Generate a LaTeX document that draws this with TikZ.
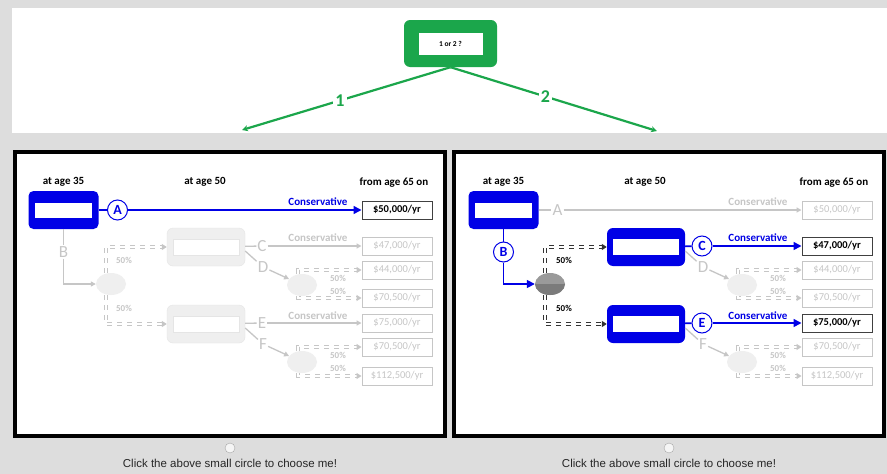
\documentclass[tikz,border=0pt]{standalone}
\usepackage{fontspec}
\setmainfont{Carlito}
\newfontfamily\clickfont{Liberation Sans}
\usetikzlibrary{arrows.meta,shapes.geometric,positioning}

\definecolor{bggray}{HTML}{DDDDDD}
\definecolor{optgreen}{HTML}{1BA64B}
\definecolor{pathblue}{HTML}{0000E6}
\definecolor{fade}{HTML}{C6C6C6}
\definecolor{fadefill}{HTML}{EFEFEF}
\definecolor{chancegray}{HTML}{9A9A9A}

\tikzset{
  agelbl/.style={font=\fontsize{11}{13}\selectfont\bfseries},
  paybox/.style={draw=black!75, line width=1pt, minimum width=70pt, minimum height=18pt, inner sep=0pt, font=\fontsize{10.5}{12}\selectfont\bfseries},
  fadepay/.style={paybox, draw=fade, text=fade, font=\fontsize{10.5}{12}\selectfont},
  nowbox/.style={rounded corners=5pt, fill=pathblue, minimum width=70pt, minimum height=38pt, inner sep=0pt},
  laterbox/.style={rounded corners=6pt, fill=pathblue, minimum width=78pt, minimum height=38pt, inner sep=0pt},
  fadebox/.style={laterbox, fill=fadefill, draw=fade!45},
  slot/.style={fill=white, minimum width=57pt, minimum height=15pt, inner sep=0pt},
  bigslot/.style={fill=white, minimum width=66pt, minimum height=16pt, inner sep=0pt},
  fadeslot/.style={bigslot, draw=fade!45},
  pick/.style={circle, draw=pathblue, fill=white, line width=1pt, minimum size=20pt, inner sep=0pt, text=pathblue, font=\fontsize{14}{16}\selectfont\bfseries},
  skip/.style={text=fade, inner sep=1pt, font=\fontsize{17}{19}\selectfont},
  chance/.style={ellipse, minimum width=30pt, minimum height=22pt, fill=fadefill, inner sep=0pt},
  pathline/.style={draw=pathblue, line width=1.6pt},
  patharrow/.style={pathline, -{Triangle[length=8pt,width=8pt]}},
  fadeline/.style={draw=fade, line width=1.3pt},
  fadearrow/.style={fadeline, -{Triangle[length=5pt,width=5pt]}},
  split/.style={draw=black!80, double=white, double distance=1.4pt, line width=1.7pt, dash pattern=on 5pt off 5pt, -{Triangle[length=5pt,width=6pt]}},
  fadesplit/.style={split, draw=fade},
  pct/.style={font=\fontsize{9}{10}\selectfont\bfseries},
  cons/.style={font=\fontsize{11}{13}\selectfont\bfseries},
  optline/.style={draw=optgreen, line width=2.2pt, -{Stealth[length=6pt,width=6pt]}},
  optnum/.style={fill=white, text=optgreen, inner sep=2pt, font=\fontsize{18}{20}\selectfont\bfseries},
  frame/.style={draw=black, line width=4pt, fill=white},
  radio/.style={circle, draw=black!35, fill=black!4, minimum size=10pt, inner sep=0pt},
  clicktxt/.style={font=\clickfont\fontsize{11.5}{13}\selectfont, text=black!85},
}

\begin{document}
\begin{tikzpicture}[x=1pt,y=-1pt]
\useasboundingbox (0,0) rectangle (887,474);
\fill[bggray] (0,0) rectangle (887,474);
\fill[white] (12,8) rectangle (887,133);

% the question
\node[fill=optgreen, rounded corners=6pt, minimum width=93pt, minimum height=47pt] (choice) at (450.5,43.5) {};
\node[fill=white, minimum width=64pt, minimum height=22pt, inner sep=0pt, font=\fontsize{7.5}{8}\selectfont\bfseries] (choicetxt) at (choice) {1 or 2 ?};
\coordinate (opt1) at (242,130);
\coordinate (opt2) at (657,131);
\draw[optline] (choice.south) -- node[optnum, pos=0.53] (num1) {1} (opt1);
\draw[optline] (choice.south) -- node[optnum, pos=0.46] (num2) {2} (opt2);

% the two panels
\draw[frame] (15,152) rectangle (445,436);
\draw[frame] (454,152) rectangle (884,436);

\node[radio] (radio1) at (230,448) {};
\node[clicktxt] (click1) at (230,463) {Click the above small circle to choose me!};
\node[radio] (radio2) at (669,448) {};
\node[clicktxt] (click2) at (669,463) {Click the above small circle to choose me!};

% option 1
\begin{scope}
\node[agelbl] (lage35) at (63.5,182) {at age 35};
\node[agelbl] (lage50) at (205,182) {at age 50};
\node[agelbl] (lage65) at (394,183) {from age 65 on};

\node[nowbox] (lnow) at (63.5,210) {};
\node[slot] (lnowslot) at (lnow) {};
\node[pick] (lA) at (117.5,210) {A};
\node[paybox] (lpay1) at (397,210) {\$50,000/yr};
\draw[pathline] (lnow) -- (lA);
\draw[patharrow] (lA) -- (lpay1);
\node[cons, text=pathblue] (lcons1) at (318,202) {Conservative};

\node[skip] (lB) at (63.5,252) {B};
\node[chance] (lchance) at (111,284) {};
\draw[fadeline] (lnow) -- (lB);
\draw[fadearrow] (lB) |- (lchance);

\node[fadebox] (lmid1) at (206,247) {};
\node[fadeslot] (lmid1slot) at (lmid1) {};
\node[fadebox] (lmid2) at (206,324) {};
\node[fadeslot] (lmid2slot) at (lmid2) {};
\draw[fadesplit] ([xshift=-5pt]lchance.north) |- (lmid1);
\draw[fadesplit] ([xshift=-5pt]lchance.south) |- (lmid2);
\node[pct, text=fade] (lpct1) at (124,260) {50\%};
\node[pct, text=fade] (lpct2) at (124,308) {50\%};

\node[skip] (lC) at (262,246) {C};
\node[fadepay] (lpay2) at (397,246) {\$47,000/yr};
\draw[fadeline] (lmid1) -- (lC);
\draw[fadearrow] (lC) -- (lpay2);
\node[cons, text=fade] (lcons2) at (318,238) {Conservative};

\node[skip] (lD) at (263,267) {D};
\node[chance] (lchanceD) at (302,285) {};
\node[fadepay] (lpay3) at (397,270) {\$44,000/yr};
\node[fadepay] (lpay4) at (397,298) {\$70,500/yr};
\draw[fadeline] ([yshift=-4pt]lmid1.east) -- (lD);
\draw[fadearrow] (lD) -- (lchanceD);
\draw[fadesplit] ([xshift=-4pt]lchanceD.north) |- (lpay3);
\draw[fadesplit] ([xshift=-4pt]lchanceD.south) |- (lpay4);
\node[pct, text=fade] (lpct3) at (338,278) {50\%};
\node[pct, text=fade] (lpct4) at (338,291) {50\%};

\node[skip] (lE) at (262,323) {E};
\node[fadepay] (lpay5) at (397,323) {\$75,000/yr};
\draw[fadeline] (lmid2) -- (lE);
\draw[fadearrow] (lE) -- (lpay5);
\node[cons, text=fade] (lcons3) at (318,316) {Conservative};

\node[skip] (lF) at (263,344) {F};
\node[chance] (lchanceF) at (302,362) {};
\node[fadepay] (lpay6) at (397,347) {\$70,500/yr};
\node[fadepay] (lpay7) at (397,376) {\$112,500/yr};
\draw[fadeline] ([yshift=-4pt]lmid2.east) -- (lF);
\draw[fadearrow] (lF) -- (lchanceF);
\draw[fadesplit] ([xshift=-4pt]lchanceF.north) |- (lpay6);
\draw[fadesplit] ([xshift=-4pt]lchanceF.south) |- (lpay7);
\node[pct, text=fade] (lpct5) at (338,355) {50\%};
\node[pct, text=fade] (lpct6) at (338,368) {50\%};
\end{scope}

% option 2
\begin{scope}[xshift=440pt]
\node[agelbl] (rage35) at (63.5,182) {at age 35};
\node[agelbl] (rage50) at (205,182) {at age 50};
\node[agelbl] (rage65) at (394,183) {from age 65 on};

\node[nowbox] (rnow) at (63.5,210) {};
\node[slot] (rnowslot) at (rnow) {};
\node[skip] (rA) at (117.5,210) {A};
\node[fadepay] (rpay1) at (397,210) {\$50,000/yr};
\draw[fadeline] (rnow) -- (rA);
\draw[fadearrow] (rA) -- (rpay1);
\node[cons, text=fade] (rcons1) at (318,202) {Conservative};

\node[pick] (rB) at (63.5,252) {B};
\node[chance, fill=chancegray] (rchance) at (110,284) {};
\begin{scope}
\clip (110,284) ellipse [x radius=15, y radius=11];
\fill[chancegray!80!black] (94,284) rectangle (126,296);
\end{scope}
\draw[pathline] (rnow) -- (rB);
\draw[patharrow] (rB) |- (rchance);

\node[laterbox] (rmid1) at (206,247) {};
\node[bigslot] (rmid1slot) at (rmid1) {};
\node[laterbox] (rmid2) at (206,324) {};
\node[bigslot] (rmid2slot) at (rmid2) {};
\draw[split] ([xshift=-5pt]rchance.north) |- (rmid1);
\draw[split] ([xshift=-5pt]rchance.south) |- (rmid2);
\node[pct] (rpct1) at (124,260) {50\%};
\node[pct] (rpct2) at (124,308) {50\%};

\node[pick] (rC) at (262,246) {C};
\node[paybox] (rpay2) at (397,246) {\$47,000/yr};
\draw[pathline] (rmid1) -- (rC);
\draw[patharrow] (rC) -- (rpay2);
\node[cons, text=pathblue] (rcons2) at (318,238) {Conservative};

\node[skip] (rD) at (263,267) {D};
\node[chance] (rchanceD) at (302,285) {};
\node[fadepay] (rpay3) at (397,270) {\$44,000/yr};
\node[fadepay] (rpay4) at (397,298) {\$70,500/yr};
\draw[fadeline] ([yshift=-4pt]rmid1.east) -- (rD);
\draw[fadearrow] (rD) -- (rchanceD);
\draw[fadesplit] ([xshift=-4pt]rchanceD.north) |- (rpay3);
\draw[fadesplit] ([xshift=-4pt]rchanceD.south) |- (rpay4);
\node[pct, text=fade] (rpct3) at (338,278) {50\%};
\node[pct, text=fade] (rpct4) at (338,291) {50\%};

\node[pick] (rE) at (262,323) {E};
\node[paybox] (rpay5) at (397,323) {\$75,000/yr};
\draw[pathline] (rmid2) -- (rE);
\draw[patharrow] (rE) -- (rpay5);
\node[cons, text=pathblue] (rcons3) at (318,316) {Conservative};

\node[skip] (rF) at (263,344) {F};
\node[chance] (rchanceF) at (302,362) {};
\node[fadepay] (rpay6) at (397,347) {\$70,500/yr};
\node[fadepay] (rpay7) at (397,376) {\$112,500/yr};
\draw[fadeline] ([yshift=-4pt]rmid2.east) -- (rF);
\draw[fadearrow] (rF) -- (rchanceF);
\draw[fadesplit] ([xshift=-4pt]rchanceF.north) |- (rpay6);
\draw[fadesplit] ([xshift=-4pt]rchanceF.south) |- (rpay7);
\node[pct, text=fade] (rpct5) at (338,355) {50\%};
\node[pct, text=fade] (rpct6) at (338,368) {50\%};
\end{scope}
\end{tikzpicture}
\end{document}
